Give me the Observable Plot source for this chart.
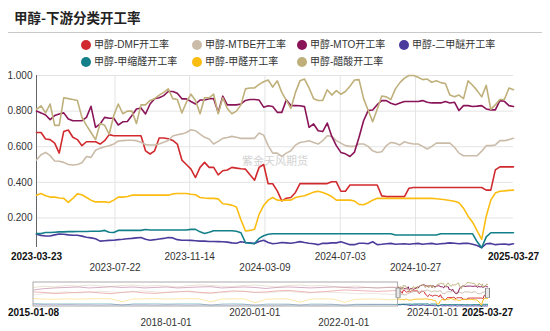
<!DOCTYPE html>
<html><head><meta charset="utf-8">
<script src="https://cdn.jsdelivr.net/npm/d3@7"></script>
<script src="https://cdn.jsdelivr.net/npm/@observablehq/plot@0.6"></script>
<style>
body{margin:0;background:#fff;font-family:"Liberation Sans",Arial,"Noto Sans CJK SC",sans-serif;}
#wrap{position:relative;width:550px;height:331px;overflow:hidden;background:#fff}
#title{position:absolute;left:14px;top:9px;font-size:13.5px;font-weight:bold;color:#222;font-family:"Noto Sans CJK SC",sans-serif;line-height:16px}
#sep{position:absolute;left:8px;top:32px;width:534px;height:1px;background:#c8c8c8}
#legend{position:absolute;left:0;top:36px;width:550px;height:30px;font-size:10px;color:#333;font-family:"Liberation Sans",Arial,"Noto Sans CJK SC",sans-serif}
.item{position:absolute;white-space:nowrap;display:flex;align-items:center;height:12px;line-height:12px}
.dot{width:10px;height:10px;border-radius:50%;margin-right:3px;flex:none}
#main{position:absolute;left:0;top:66px}
#nav{position:absolute;left:0;top:276px}
</style></head>
<body><div id="wrap"><div id="title">甲醇-下游分类开工率</div><div id="sep"></div><div id="legend"></div><div id="main"></div><div id="nav"></div></div>
<script>
// ---------- data ----------
const startDate = "2023-03-23";   // weekly observations (Thursdays)
const endDate = "2025-03-27";
const navStart = "2015-01-08";

const seriesNames = ["甲醇-DMF开工率","甲醇-MTBE开工率","甲醇-MTO开工率","甲醇-二甲醚开工率","甲醇-甲缩醛开工率","甲醇-甲醛开工率","甲醇-醋酸开工率"];
const seriesColors = ["#d12a2e","#cbbcaa","#8a1458","#4b3c9c","#138089","#fbbd12","#bfb07b"];

const dmf = [0.68,0.68,0.643,0.64,0.62,0.564,0.686,0.694,0.653,0.64,
0.606,0.628,0.628,0.628,0.615,0.634,0.668,0.662,0.662,0.662,
0.662,0.662,0.662,0.662,0.577,0.559,0.577,0.649,0.649,0.645,
0.635,0.615,0.525,0.50,0.474,0.427,0.484,0.512,0.484,0.484,
0.442,0.465,0.469,0.484,0.48,0.476,0.474,0.442,0.412,0.484,
0.50,0.392,0.392,0.352,0.296,0.311,0.315,0.343,0.393,0.393,
0.393,0.393,0.393,0.393,0.393,0.403,0.403,0.35,0.35,0.385,
0.385,0.385,0.385,0.385,0.385,0.385,0.324,0.32,0.32,0.32,
0.32,0.32,0.367,0.371,0.371,0.371,0.371,0.371,0.371,0.371,
0.371,0.371,0.371,0.371,0.371,0.371,0.371,0.371,0.371,0.356,
0.356,0.47,0.487,0.487,0.487,0.487];

const mtbe = [0.525,0.555,0.568,0.55,0.52,0.518,0.512,0.50,0.497,0.50,
0.51,0.545,0.54,0.58,0.592,0.60,0.605,0.615,0.632,0.634,
0.636,0.636,0.634,0.625,0.612,0.61,0.61,0.615,0.625,0.635,
0.66,0.667,0.672,0.68,0.695,0.69,0.671,0.653,0.643,0.615,
0.63,0.647,0.652,0.658,0.653,0.647,0.647,0.647,0.647,0.677,
0.665,0.606,0.564,0.564,0.546,0.564,0.577,0.609,0.624,0.628,
0.634,0.624,0.615,0.634,0.662,0.658,0.634,0.62,0.606,0.602,
0.602,0.615,0.615,0.602,0.577,0.568,0.572,0.606,0.624,0.62,
0.61,0.628,0.62,0.615,0.615,0.602,0.587,0.602,0.62,0.62,
0.62,0.62,0.597,0.564,0.549,0.549,0.549,0.549,0.575,0.606,
0.606,0.61,0.634,0.634,0.64,0.647];

const mto = [0.80,0.79,0.778,0.752,0.775,0.784,0.79,0.756,0.746,0.746,
0.746,0.765,0.827,0.709,0.728,0.765,0.76,0.76,0.722,0.74,
0.742,0.775,0.812,0.818,0.784,0.84,0.869,0.875,0.887,0.91,
0.91,0.90,0.869,0.869,0.854,0.84,0.862,0.862,0.869,0.87,
0.793,0.884,0.835,0.835,0.835,0.84,0.86,0.865,0.865,0.862,
0.822,0.83,0.826,0.793,0.793,0.863,0.831,0.831,0.83,0.825,
0.709,0.728,0.69,0.685,0.733,0.658,0.606,0.568,0.56,0.545,
0.57,0.653,0.746,0.803,0.806,0.836,0.859,0.859,0.844,0.836,
0.846,0.854,0.854,0.854,0.854,0.859,0.85,0.846,0.846,0.846,
0.854,0.846,0.85,0.803,0.831,0.831,0.826,0.828,0.831,0.812,
0.807,0.807,0.859,0.855,0.831,0.826];

const dme = [0.108,0.102,0.099,0.099,0.105,0.11,0.108,0.105,0.103,0.103,
0.098,0.092,0.088,0.083,0.07,0.072,0.074,0.075,0.078,0.08,
0.083,0.085,0.088,0.09,0.08,0.075,0.078,0.082,0.085,0.09,
0.088,0.078,0.075,0.075,0.074,0.072,0.07,0.07,0.068,0.068,
0.067,0.066,0.064,0.06,0.058,0.066,0.062,0.06,0.056,0.068,
0.075,0.062,0.055,0.058,0.062,0.06,0.058,0.062,0.067,0.062,
0.058,0.055,0.05,0.058,0.057,0.06,0.06,0.066,0.058,0.05,
0.05,0.058,0.058,0.055,0.066,0.05,0.052,0.055,0.057,0.052,
0.054,0.055,0.052,0.055,0.057,0.052,0.055,0.057,0.052,0.055,
0.057,0.06,0.058,0.055,0.057,0.058,0.052,0.045,0.033,0.055,
0.057,0.05,0.052,0.054,0.05,0.055];

const methylal = [0.112,0.113,0.118,0.118,0.12,0.122,0.122,0.123,0.123,0.124,
0.124,0.124,0.125,0.125,0.125,0.13,0.12,0.118,0.13,0.13,
0.13,0.13,0.13,0.13,0.135,0.132,0.132,0.132,0.132,0.132,
0.132,0.132,0.132,0.132,0.136,0.136,0.122,0.113,0.12,0.128,
0.128,0.128,0.128,0.128,0.125,0.117,0.061,0.058,0.056,0.085,
0.10,0.108,0.111,0.111,0.111,0.111,0.111,0.111,0.111,0.111,
0.111,0.111,0.111,0.111,0.111,0.111,0.111,0.111,0.111,0.111,
0.111,0.111,0.111,0.111,0.111,0.111,0.111,0.111,0.111,0.104,
0.104,0.104,0.104,0.104,0.104,0.104,0.104,0.104,0.104,0.111,
0.111,0.111,0.111,0.111,0.111,0.111,0.111,0.066,0.033,0.094,
0.117,0.117,0.117,0.117,0.117,0.117];

const formaldehyde = [0.328,0.337,0.325,0.317,0.317,0.312,0.31,0.287,0.31,0.335,
0.33,0.315,0.30,0.29,0.29,0.29,0.287,0.30,0.317,0.317,
0.32,0.328,0.328,0.328,0.328,0.328,0.328,0.328,0.328,0.328,
0.335,0.337,0.337,0.337,0.333,0.33,0.315,0.312,0.31,0.31,
0.307,0.28,0.277,0.272,0.262,0.19,0.127,0.13,0.136,0.22,
0.27,0.30,0.315,0.30,0.298,0.30,0.30,0.315,0.32,0.325,
0.335,0.345,0.35,0.343,0.333,0.32,0.30,0.30,0.30,0.30,
0.295,0.276,0.274,0.285,0.30,0.31,0.31,0.31,0.31,0.31,
0.31,0.31,0.31,0.31,0.31,0.31,0.31,0.31,0.308,0.305,
0.302,0.298,0.294,0.285,0.255,0.21,0.176,0.127,0.08,0.21,
0.30,0.34,0.35,0.352,0.355,0.356];

const acetic = [0.81,0.83,0.79,0.84,0.72,0.72,0.875,0.87,0.865,0.86,
0.765,0.72,0.68,0.64,0.73,0.72,0.67,0.775,0.84,0.785,
0.80,0.80,0.73,0.835,0.835,0.86,0.87,0.89,0.905,0.925,
0.87,0.865,0.79,0.85,0.895,0.86,0.785,0.875,0.875,0.895,
0.785,0.875,0.815,0.785,0.80,0.835,0.925,0.93,0.93,0.95,
0.965,0.975,0.935,0.97,0.905,0.86,0.815,0.905,0.97,0.98,
0.93,0.87,0.86,0.86,0.92,0.89,0.915,0.895,0.91,0.94,
0.975,0.977,0.87,0.805,0.74,0.81,0.885,0.88,0.865,0.925,
0.96,0.985,1.0,1.0,0.99,0.977,0.98,0.962,0.97,0.96,
0.955,0.89,0.88,0.89,0.87,0.97,0.945,0.915,0.88,0.945,
0.81,0.835,0.865,0.865,0.93,0.92];

// history shown faded in the range navigator (quarterly readings 2015-01 .. 2023-01)
const histDates = ["2015-01-08","2015-04-02","2015-07-02","2015-10-08","2016-01-07","2016-04-07","2016-07-07","2016-10-06",
"2017-01-05","2017-04-06","2017-07-06","2017-10-05","2018-01-04","2018-04-05","2018-07-05","2018-10-04",
"2019-01-03","2019-04-04","2019-07-04","2019-10-03","2020-01-02","2020-04-02","2020-07-02","2020-10-01",
"2021-01-07","2021-04-01","2021-07-01","2021-10-07","2022-01-06","2022-04-07","2022-07-07","2022-10-06","2023-01-05"];
const dmfHist = [0.62,0.60,0.55,0.58,0.60,0.62,0.58,0.55,0.60,0.63,0.58,0.56,0.60,0.62,0.65,0.60,0.58,0.62,0.66,0.64,0.60,0.62,0.66,0.68,0.64,0.60,0.62,0.66,0.70,0.68,0.66,0.64,0.66];
const mtbeHist = [0.50,0.55,0.60,0.62,0.58,0.60,0.65,0.62,0.60,0.63,0.66,0.62,0.60,0.64,0.62,0.58,0.55,0.60,0.62,0.65,0.60,0.58,0.62,0.64,0.60,0.58,0.62,0.60,0.58,0.55,0.56,0.55,0.52];
const mtoHist = [0.70,0.75,0.78,0.80,0.82,0.78,0.80,0.83,0.80,0.82,0.78,0.80,0.82,0.78,0.80,0.82,0.83,0.78,0.80,0.82,0.80,0.76,0.80,0.82,0.80,0.78,0.80,0.82,0.80,0.78,0.80,0.78,0.80];
const dmeHist = [0.12,0.11,0.10,0.11,0.10,0.10,0.09,0.10,0.11,0.10,0.10,0.09,0.10,0.10,0.09,0.10,0.10,0.09,0.09,0.10,0.10,0.09,0.09,0.10,0.10,0.09,0.09,0.10,0.10,0.10,0.11,0.11,0.11];
const methylalHist = [0.15,0.14,0.14,0.14,0.14,0.14,0.14,0.14,0.07,0.14,0.14,0.14,0.13,0.14,0.14,0.14,0.07,0.13,0.14,0.13,0.06,0.13,0.13,0.13,0.07,0.13,0.13,0.12,0.06,0.12,0.12,0.12,0.12];
const formaldehydeHist = [0.35,0.33,0.32,0.34,0.33,0.34,0.35,0.34,0.22,0.33,0.34,0.35,0.33,0.34,0.35,0.34,0.22,0.33,0.34,0.34,0.18,0.32,0.34,0.34,0.20,0.33,0.34,0.33,0.20,0.32,0.33,0.33,0.30];
const aceticHist = [0.80,0.85,0.82,0.88,0.85,0.90,0.86,0.84,0.88,0.90,0.85,0.88,0.86,0.82,0.87,0.90,0.88,0.85,0.84,0.88,0.90,0.86,0.82,0.88,0.90,0.86,0.88,0.84,0.82,0.86,0.80,0.78,0.82];

const yTicks = [0.2,0.4,0.6,0.8,1.0];
const xTicksRow1 = ["2023-11-14","2024-07-03"];
const xTicksRow2 = ["2023-07-22","2024-03-09","2024-10-27"];
const navTicksRow1 = ["2020-01-01","2024-01-01"];
const navTicksRow2 = ["2018-01-01","2022-01-01"];
const watermark = "紫金天风期货";

// ---------- build ----------
const P = s => new Date(s + "T00:00:00Z");
const t0 = P(startDate), t1 = P(endDate);
const valueArrays = [dmf, mtbe, mto, dme, methylal, formaldehyde, acetic];
const histArrays = [dmfHist, mtbeHist, mtoHist, dmeHist, methylalHist, formaldehydeHist, aceticHist];
const weekMs = 7 * 864e5;
const rows = [], hist = [];
valueArrays.forEach((arr, k) => arr.forEach((v, i) => rows.push({s: k, date: new Date(+t0 + i * weekMs), value: v})));
histArrays.forEach((arr, k) => {
  arr.forEach((v, i) => hist.push({s: k, date: P(histDates[i]), value: v}));
  hist.push({s: k, date: t0, value: valueArrays[k][0]});
});

// legend
const legendPos = [[86,45],[197,45],[302,45],[404,45],[86,61.5],[197,61.5],[302,61.5]];
const leg = document.getElementById("legend");
seriesNames.forEach((n, k) => {
  const d = document.createElement("div");
  d.className = "item";
  d.style.left = (legendPos[k][0] - 5) + "px";
  d.style.top = (legendPos[k][1] - 36 - 6) + "px";
  d.innerHTML = `<span class="dot" style="background:${seriesColors[k]}"></span><span>${n}</span>`;
  leg.appendChild(d);
});

const fmtDate = d3.utcFormat("%Y-%m-%d");
const font = "'Liberation Sans',Arial,'Noto Sans CJK SC',sans-serif";

const main = Plot.plot({
  width: 550, height: 210,
  marginTop: 9, marginBottom: 29, marginLeft: 36, marginRight: 37,
  style: {fontFamily: font, fontSize: "10px", color: "#333", background: "transparent", overflow: "visible"},
  x: {type: "utc", domain: [t0, t1], axis: null},
  y: {domain: [0.034, 1.0], axis: null},
  marks: [
    Plot.gridY(yTicks, {stroke: "#e4e4e4", strokeOpacity: 1}),
    Plot.gridX([...xTicksRow1, ...xTicksRow2].map(P), {stroke: "#e4e4e4", strokeOpacity: 1}),
    Plot.text([watermark], {frameAnchor: "middle", fill: "#d2d2d2", fontSize: 11, fontFamily: "'Noto Sans CJK SC',sans-serif"}),
    Plot.ruleX([t0], {stroke: "#666"}),
    Plot.axisY(yTicks, {label: null, tickSize: 0, tickPadding: 4, tickFormat: d3.format(".3f"), fill: "#333"}),
    ...seriesNames.map((n, k) => Plot.line(rows.filter(r => r.s === k), {x: "date", y: "value", stroke: seriesColors[k], strokeWidth: 1.6})),
    Plot.text(xTicksRow1.map(P), {x: d => d, text: fmtDate, frameAnchor: "bottom", lineAnchor: "top", dy: 5, fill: "#333"}),
    Plot.text(xTicksRow2.map(P), {x: d => d, text: fmtDate, frameAnchor: "bottom", lineAnchor: "top", dy: 16, fill: "#333"}),
    Plot.text([t0, t1], {x: d => d, text: fmtDate, frameAnchor: "bottom", lineAnchor: "top", dy: 5, fontWeight: "bold", fill: "#111"})
  ]
});
document.getElementById("main").appendChild(main);

const n0 = P(navStart);
const nav = Plot.plot({
  width: 550, height: 55,
  marginTop: 6, marginBottom: 25, marginLeft: 33, marginRight: 63,
  style: {fontFamily: font, fontSize: "10px", color: "#333", background: "transparent", overflow: "visible"},
  x: {type: "utc", domain: [n0, t1], axis: null},
  y: {domain: [0.03, 1.0], axis: null},
  marks: [
    ...seriesNames.map((n, k) => Plot.line(hist.filter(r => r.s === k), {x: "date", y: "value", stroke: seriesColors[k], strokeOpacity: 0.35, strokeWidth: 1})),
    ...seriesNames.map((n, k) => Plot.line(rows.filter(r => r.s === k), {x: "date", y: "value", stroke: seriesColors[k], strokeWidth: 1})),
    Plot.rect([0], {x1: n0, x2: t0, y1: 0.03, y2: 1.0, fill: "none", stroke: "#aaa"}),
    Plot.ruleX([t0, t1], {y1: 0.36, y2: 0.76, stroke: "#888", strokeWidth: 5}),
    Plot.ruleX([t0, t1], {y1: 0.38, y2: 0.74, stroke: "#e8e8e8", strokeWidth: 3}),
    Plot.text(navTicksRow1.map(P), {x: d => d, text: fmtDate, frameAnchor: "bottom", lineAnchor: "top", dy: 2, fill: "#333"}),
    Plot.text(navTicksRow2.map(P), {x: d => d, text: fmtDate, frameAnchor: "bottom", lineAnchor: "top", dy: 12, fill: "#333"}),
    Plot.text([n0, t1], {x: d => d, text: fmtDate, frameAnchor: "bottom", lineAnchor: "top", dy: 2, fontWeight: "bold", fill: "#111"})
  ]
});
document.getElementById("nav").appendChild(nav);
</script>
</body></html>
